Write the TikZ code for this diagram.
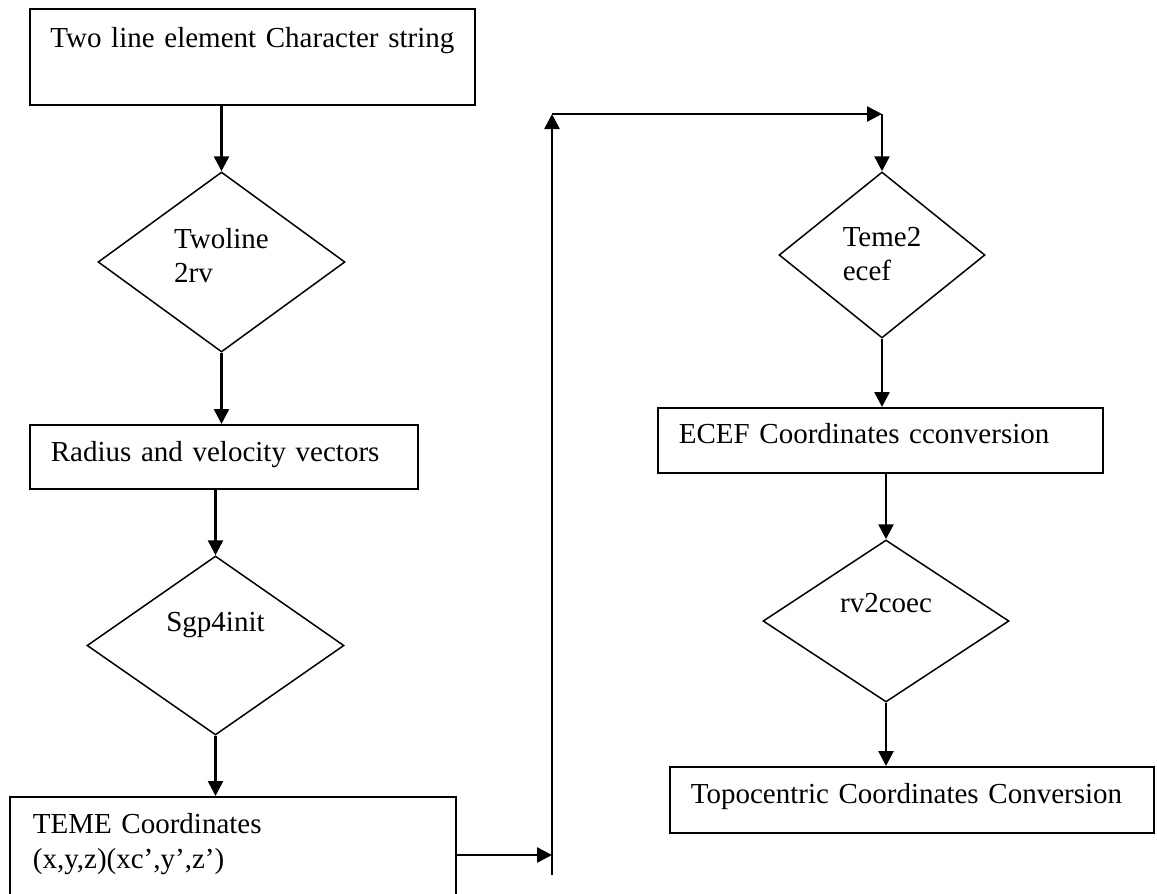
\documentclass[tikz,border=0pt]{standalone}
\usepackage{fontspec}
\setmainfont{Liberation Serif}
\usetikzlibrary{shapes.geometric,arrows.meta}

\begin{document}
\begin{tikzpicture}[x=0.5pt,y=-0.5pt,
        font=\fontsize{14.5}{17.3}\selectfont,
        box/.style={draw,line width=0.85pt,rectangle,anchor=north west,inner ysep=0pt,align=left},
        choice/.style={draw,line width=0.75pt,diamond,inner sep=0pt,align=left},
        arr/.style={line width=1.3pt,-{Triangle[width=7.5pt,length=7.5pt]}}]
    \clip (0,0) rectangle (1157,894);
    % left column
    \node[box,align=center,text width=212.5pt,inner xsep=5pt,text height=19.5pt,text depth=28.5pt] (tle) at (29,8) {Two line element Character string};
    \node[choice,minimum width=123.5pt,minimum height=90pt,text height=24.3pt,text depth=3.7pt] (twoline) at (221.5,262) {Twoline\\2rv};
    \node[box,text width=173pt,inner xsep=10.5pt,text height=18.5pt,text depth=13.5pt] (radius) at (29,424) {Radius and velocity vectors};
    \node[choice,minimum width=128.5pt,minimum height=89.5pt,text height=7pt,text depth=21pt] (sgp) at (215.5,645.5) {Sgp4init};
    \node[box,text width=200pt,inner xsep=11.5pt,text height=18.5pt,text depth=46.5pt] (teme) at (9,796) {TEME Coordinates\\(x,y,z)(xc’,y’,z’)};
    % right column
    \node[choice,minimum width=103pt,minimum height=83pt,text height=26pt,text depth=0.4pt] (teme2) at (882,255) {Teme2\\ecef};
    \node[box,text width=201.5pt,inner xsep=10.5pt,text height=18pt,text depth=14.5pt] (ecef) at (657,407) {ECEF Coordinates cconversion};
    \node[choice,minimum width=123pt,minimum height=81pt,text height=7pt,text depth=16pt] (rv) at (886,621) {rv2coec};
    \node[box,text width=221pt,inner xsep=10.5pt,text height=18.5pt,text depth=14.5pt] (topo) at (669,766) {Topocentric Coordinates Conversion};
    % link between columns
    \coordinate (jn) at (552,855);
    \coordinate (upbot) at (552,875);
    \coordinate (uptop) at (552,114);
    \coordinate (corner) at (teme2.north |- uptop);

    \draw[arr] (twoline.north |- tle.south) -- (twoline.north);
    \draw[arr] (twoline.south) -- (twoline.south |- radius.north);
    \draw[arr] (sgp.north |- radius.south) -- (sgp.north);
    \draw[arr] (sgp.south) -- (sgp.south |- teme.north);
    \draw[arr] (teme.east |- jn) -- (jn);
    \draw[arr] (upbot) -- (uptop);
    \draw[arr] (uptop) -- (corner);
    \draw[arr] (corner) -- (teme2.north);
    \draw[arr] (teme2.south) -- (teme2.south |- ecef.north);
    \draw[arr] (rv.north |- ecef.south) -- (rv.north);
    \draw[arr] (rv.south) -- (rv.south |- topo.north);
\end{tikzpicture}
\end{document}
